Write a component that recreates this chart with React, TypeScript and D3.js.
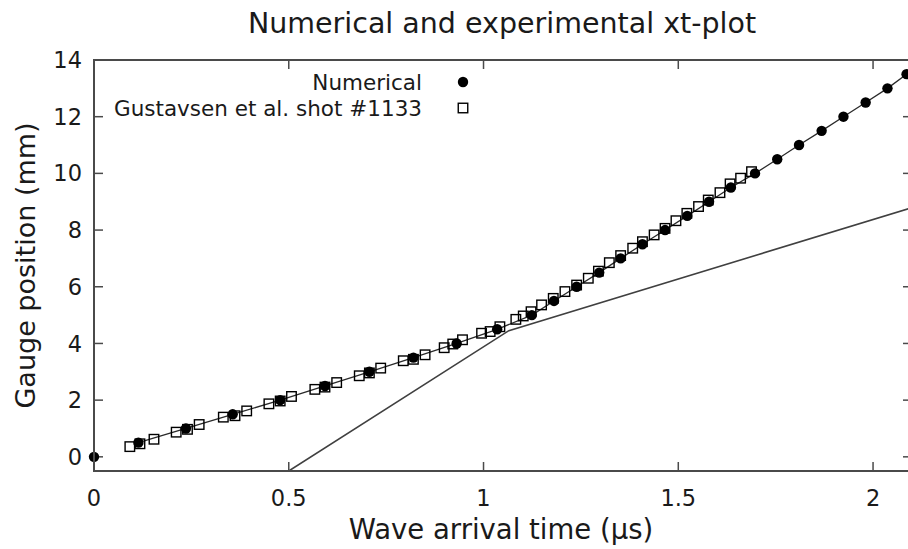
import { useEffect, useRef } from 'react';
import * as d3 from 'd3';

// numerical gauge arrival times (us) and positions (mm)
const numTime = [0, 0.114, 0.236, 0.356, 0.478, 0.593, 0.707, 0.82, 0.931, 1.035, 1.124, 1.181, 1.239, 1.297, 1.352, 1.408, 1.466, 1.523, 1.579, 1.635, 1.697, 1.754, 1.81, 1.868, 1.924, 1.981, 2.037, 2.086];
const numPos = [0, 0.5, 1, 1.5, 2, 2.5, 3, 3.5, 4, 4.5, 5, 5.5, 6, 6.5, 7, 7.5, 8, 8.5, 9, 9.5, 10, 10.5, 11, 11.5, 12, 12.5, 13, 13.5];

// Gustavsen et al. shot #1133
const expTime = [0.092, 0.118, 0.154, 0.211, 0.24, 0.27, 0.332, 0.362, 0.392, 0.449, 0.478, 0.507, 0.567, 0.593, 0.623, 0.681, 0.707, 0.736, 0.794, 0.82, 0.85, 0.899, 0.921, 0.946, 0.995, 1.017, 1.042, 1.083, 1.102, 1.122, 1.149, 1.179, 1.209, 1.239, 1.269, 1.295, 1.323, 1.352, 1.383, 1.408, 1.438, 1.466, 1.494, 1.522, 1.552, 1.577, 1.607, 1.633, 1.66, 1.688];
const expPos = [0.36, 0.46, 0.62, 0.87, 0.97, 1.14, 1.4, 1.45, 1.62, 1.87, 1.97, 2.13, 2.38, 2.46, 2.62, 2.86, 2.96, 3.13, 3.39, 3.44, 3.6, 3.85, 3.98, 4.13, 4.36, 4.42, 4.59, 4.85, 4.97, 5.12, 5.36, 5.59, 5.83, 6.06, 6.3, 6.55, 6.85, 7.1, 7.36, 7.59, 7.83, 8.06, 8.33, 8.59, 8.83, 9.06, 9.32, 9.63, 9.83, 10.06];

// reference wave lines
const refTime = [0.5, 1.065, 2.1];
const refPos = [-0.5, 4.45, 8.79];

const xTicks = [0, 0.5, 1, 1.5, 2];
const yTicks = [0, 2, 4, 6, 8, 10, 12, 14];

const W = 908;
const H = 549;

export default function App() {
  const svgRef = useRef<SVGSVGElement>(null);

  useEffect(() => {
    if (!svgRef.current) return;
    const svg = d3.select(svgRef.current);
    svg.selectAll('*').remove();

    const left = 94, right = 912, top = 60, bottom = 471;
    const x = d3.scaleLinear().domain([0, 2.1]).range([left, right]);
    const y = d3.scaleLinear().domain([-0.5, 14]).range([bottom, top]);
    const font = 'DejaVu Sans, sans-serif';
    const ink = '#1a1a1a';
    const axisColor = '#4a4a4a';

    svg.append('defs').append('clipPath').attr('id', 'plot-clip')
      .append('rect')
      .attr('x', left).attr('y', top)
      .attr('width', right - left).attr('height', bottom - top);

    // title
    svg.append('text')
      .attr('x', 502)
      .attr('y', 33)
      .attr('text-anchor', 'middle')
      .attr('font-family', font)
      .attr('font-size', 28.5)
      .attr('fill', ink)
      .text('Numerical and experimental xt-plot');

    // ticks (mirrored on all sides)
    const tickLen = 9;
    const ticks = svg.append('g').attr('stroke', axisColor).attr('stroke-width', 1.5);
    xTicks.forEach(t => {
      ticks.append('line').attr('x1', x(t)).attr('x2', x(t)).attr('y1', bottom).attr('y2', bottom - tickLen);
      ticks.append('line').attr('x1', x(t)).attr('x2', x(t)).attr('y1', top).attr('y2', top + tickLen);
    });
    yTicks.forEach(t => {
      ticks.append('line').attr('x1', left).attr('x2', left + tickLen).attr('y1', y(t)).attr('y2', y(t));
      ticks.append('line').attr('x1', right).attr('x2', right - tickLen).attr('y1', y(t)).attr('y2', y(t));
    });

    svg.append('g').selectAll('text').data(xTicks).join('text')
      .attr('x', d => x(d))
      .attr('y', 506)
      .attr('text-anchor', 'middle')
      .attr('font-family', font)
      .attr('font-size', 22.5)
      .attr('fill', ink)
      .text(d => String(d));

    svg.append('g').selectAll('text').data(yTicks).join('text')
      .attr('x', 82)
      .attr('y', d => y(d))
      .attr('dy', '0.36em')
      .attr('text-anchor', 'end')
      .attr('font-family', font)
      .attr('font-size', 22.5)
      .attr('fill', ink)
      .text(d => String(d));

    // axis labels
    svg.append('text')
      .attr('x', 501)
      .attr('y', 539)
      .attr('text-anchor', 'middle')
      .attr('font-family', font)
      .attr('font-size', 27.5)
      .attr('fill', ink)
      .text('Wave arrival time (µs)');

    svg.append('text')
      .attr('transform', `translate(35,${(top + bottom) / 2}) rotate(-90)`)
      .attr('text-anchor', 'middle')
      .attr('font-family', font)
      .attr('font-size', 27)
      .attr('fill', ink)
      .text('Gauge position (mm)');

    const line = d3.line<[number, number]>().x(d => x(d[0])).y(d => y(d[1]));
    const numPts: [number, number][] = numTime.map((t, i) => [t, numPos[i]]);
    const expPts: [number, number][] = expTime.map((t, i) => [t, expPos[i]]);
    const refPts: [number, number][] = refTime.map((t, i) => [t, refPos[i]]);

    const plot = svg.append('g');

    // numerical curve + points
    plot.append('path')
      .attr('clip-path', 'url(#plot-clip)')
      .attr('d', line(numPts.slice(1)))
      .attr('fill', 'none')
      .attr('stroke', '#2a2a2a')
      .attr('stroke-width', 1.3);

    plot.append('g').selectAll('circle').data(numPts).join('circle')
      .attr('cx', d => x(d[0]))
      .attr('cy', d => y(d[1]))
      .attr('r', 5.2)
      .attr('fill', '#000');

    // experimental squares
    const s = 9.5;
    plot.append('g').selectAll('rect').data(expPts).join('rect')
      .attr('x', d => x(d[0]) - s / 2)
      .attr('y', d => y(d[1]) - s / 2)
      .attr('width', s)
      .attr('height', s)
      .attr('fill', 'none')
      .attr('stroke', '#000')
      .attr('stroke-width', 1.4);

    // reference lines
    plot.append('path')
      .attr('clip-path', 'url(#plot-clip)')
      .attr('d', line(refPts))
      .attr('fill', 'none')
      .attr('stroke', '#404040')
      .attr('stroke-width', 1.6);

    // frame
    svg.append('rect')
      .attr('x', left).attr('y', top)
      .attr('width', right - left).attr('height', bottom - top)
      .attr('fill', 'none')
      .attr('stroke', axisColor)
      .attr('stroke-width', 2);

    // legend
    const legend = svg.append('g').attr('font-family', font).attr('font-size', 21.5).attr('fill', ink);
    legend.append('text').attr('x', 422).attr('y', 82).attr('dy', '0.36em').attr('text-anchor', 'end').text('Numerical');
    legend.append('text').attr('x', 422).attr('y', 108).attr('dy', '0.36em').attr('text-anchor', 'end').text('Gustavsen et al. shot #1133');
    legend.append('circle').attr('cx', 463).attr('cy', 82).attr('r', 5.2).attr('fill', '#000');
    legend.append('rect')
      .attr('x', 463 - s / 2).attr('y', 108 - s / 2)
      .attr('width', s).attr('height', s)
      .attr('fill', 'none').attr('stroke', '#000').attr('stroke-width', 1.4);
  }, []);

  return (
    <svg
      ref={svgRef}
      width={W}
      height={H}
      style={{ position: 'absolute', left: 0, top: 0, background: '#fff' }}
    />
  );
}
